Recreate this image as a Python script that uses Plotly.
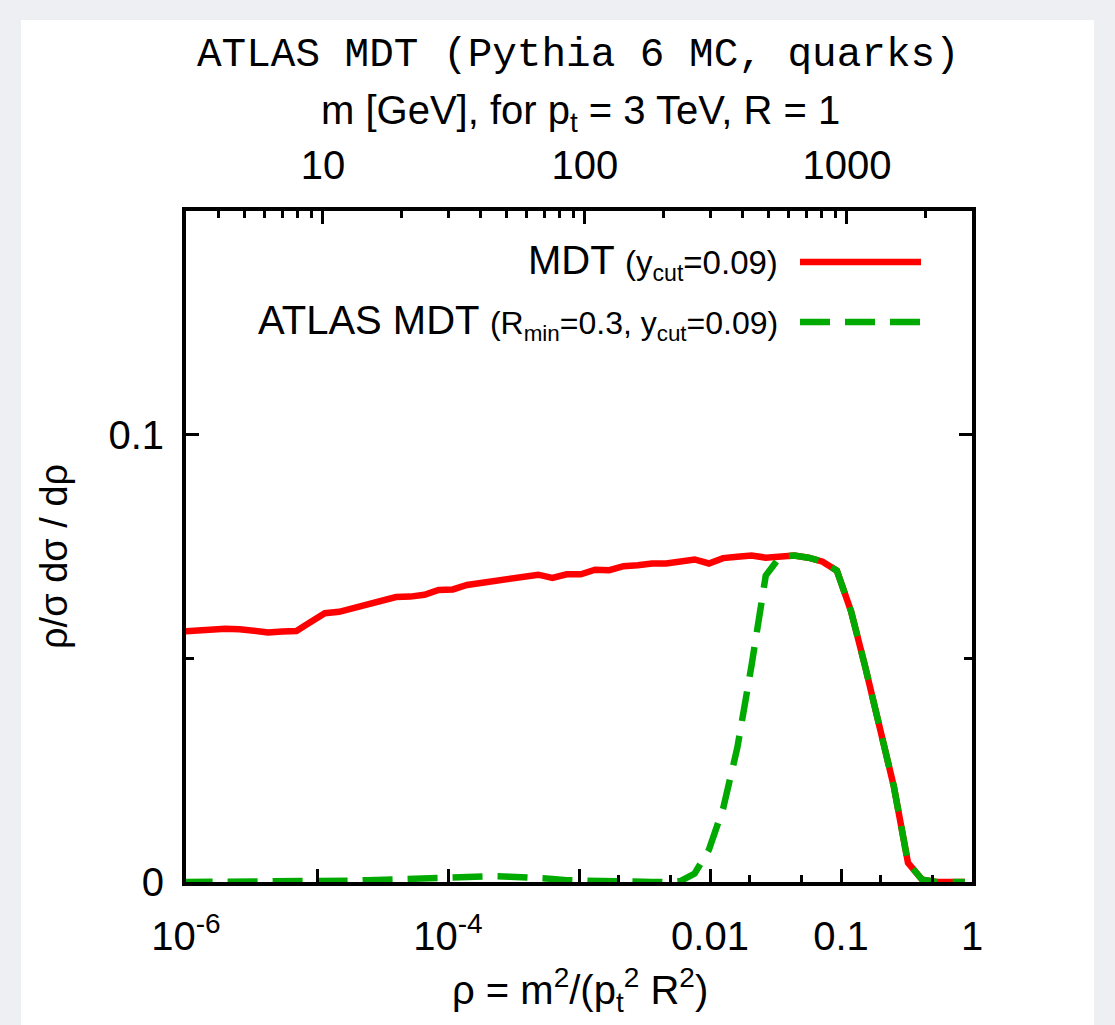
import math
import plotly.graph_objects as go

# ---------------- data ----------------
rho = [9.422e-7, 1.2098e-6, 1.5535e-6, 1.9947e-6, 2.5612e-6, 3.2887e-6, 4.2227e-6,
       5.4221e-6, 6.9621e-6, 8.9396e-6, 1.1479e-5, 1.4739e-5, 1.8925e-5, 2.4300e-5,
       3.1202e-5, 4.0065e-5, 5.1444e-5, 6.6056e-5, 8.4818e-5, 1.0891e-4, 1.3984e-4,
       1.7956e-4, 2.3055e-4, 2.9604e-4, 3.8012e-4, 4.8809e-4, 6.2672e-4, 8.0473e-4,
       1.0333e-3, 1.3268e-3, 1.7036e-3, 2.1875e-3, 2.8088e-3, 3.6066e-3, 4.6309e-3,
       5.9462e-3, 7.6351e-3, 9.8037e-3, 0.012588, 0.016163, 0.020754, 0.026649,
       0.034218, 0.043937, 0.056416, 0.072440, 0.093014, 0.11943, 0.15335, 0.19691,
       0.25284, 0.32465, 0.41686, 0.53526, 0.68729, 0.88250]

mdt = [0.0560, 0.0562, 0.0567, 0.0566, 0.0565, 0.0560, 0.0558, 0.0560, 0.0561, 0.0581,
       0.0601, 0.0604, 0.0613, 0.0622, 0.0631, 0.0637, 0.0638, 0.0642, 0.0653, 0.0654,
       0.0664, 0.0669, 0.0672, 0.0680, 0.0682, 0.0687, 0.0680, 0.0688, 0.0688, 0.0698,
       0.0697, 0.0706, 0.0708, 0.0712, 0.0712, 0.0717, 0.0721, 0.0712, 0.0724, 0.0727,
       0.0730, 0.0725, 0.0727, 0.0730, 0.0725, 0.0716, 0.0696, 0.0605, 0.0480, 0.0354,
       0.0214, 0.0043, 0.0005, 0.0, 0.0, 0.0]

atlas_mdt = [0.0, 0.0, 0.0, 0.0, 0.0, 0.0001, 0.0001, 0.0001, 0.0001, 0.0002,
             0.0002, 0.0003, 0.0003, 0.0004, 0.0005, 0.0006, 0.0007, 0.0009, 0.0010, 0.0012,
             0.0013, 0.0014, 0.0013, 0.0012, 0.0011, 0.0009, 0.0007, 0.0004, 0.0003, 0.0001,
             0.0, 0.0, 0.0, 0.0, 0.0, 0.0002, 0.0019, 0.0072, 0.0164, 0.0300,
             0.0484, 0.0685, 0.0727, 0.0730, 0.0725, 0.0716, 0.0696, 0.0605, 0.0480, 0.0354,
             0.0214, 0.0043, 0.0005, 0.0, 0.0, 0.0]

x_tickvals = [1e-6, 1e-4, 1e-2, 1e-1, 1]
x_ticktext = ["10<sup>-6</sup>", "10<sup>-4</sup>", "0.01", "0.1", "1"]
x_unlabeled_major = [1e-5, 1e-3]
x_minor = [2e-3, 5e-3, 2e-2, 5e-2, 0.2, 0.5]

m_tickvals = [10, 100, 1000]
m_ticktext = ["10", "100", "1000"]
m_minor = [4, 5, 6, 7, 8, 9, 20, 30, 40, 50, 60, 70, 80, 90,
           200, 300, 400, 500, 600, 700, 800, 900, 2000]
m_range = [3, 3000]

y_tickvals = [0, 0.1]
y_ticktext = ["0", "0.1"]
y_minor = [0.05]

# ---------------- layout geometry (pixels) ----------------
W, H = 1115, 1025
L, R, T, B = 186, 972, 211, 882

def px(x):
    return (x - L) / (R - L)

def py(y):
    return (B - y) / (B - T)

SANS = "Liberation Sans, Arial, Helvetica, sans-serif"
MONO = "Liberation Mono, Courier New, monospace"
RED = "#ff0000"
GREEN = "#00aa00"

fig = go.Figure()

fig.add_trace(go.Scatter(x=rho, y=mdt, mode="lines",
                         line=dict(color=RED, width=6.5),
                         showlegend=False, hoverinfo="skip"))
fig.add_trace(go.Scatter(x=rho, y=atlas_mdt, mode="lines",
                         line=dict(color=GREEN, width=6.5, dash="30px,15px"),
                         showlegend=False, hoverinfo="skip"))
# invisible helper traces so the extra axes are created
fig.add_trace(go.Scatter(x=m_range, y=[0, 0], xaxis="x2", mode="lines",
                         line=dict(width=0), opacity=0,
                         showlegend=False, hoverinfo="skip"))
fig.add_trace(go.Scatter(x=[1e-6, 1], y=[0, 0], xaxis="x3", mode="lines",
                         line=dict(width=0), opacity=0,
                         showlegend=False, hoverinfo="skip"))

tick_common = dict(ticks="inside", ticklen=13, tickwidth=3, tickcolor="black",
                   showgrid=False, zeroline=False)
minor_common = dict(tickmode="array", ticks="inside", ticklen=7, tickwidth=3,
                    tickcolor="black")
tfont = dict(family=SANS, size=40, color="black")

fig.update_layout(
    width=W, height=H,
    margin=dict(l=L, r=W - R, t=T, b=H - B, pad=0),
    paper_bgcolor="#edeff2",
    plot_bgcolor="white",
    showlegend=False,
    font=dict(family=SANS, color="black", size=40),
    xaxis=dict(
        type="log", range=[-6, 0],
        tickmode="array", tickvals=x_tickvals, ticktext=x_ticktext,
        minor=dict(tickvals=x_minor, **minor_common),
        showline=True, linewidth=4, linecolor="black", mirror=True,
        tickfont=tfont, ticklabelstandoff=16, **tick_common,
    ),
    xaxis3=dict(
        type="log", range=[-6, 0], overlaying="x", side="bottom", anchor="y",
        tickmode="array", tickvals=x_unlabeled_major, showticklabels=False,
        showline=False, **tick_common,
    ),
    xaxis2=dict(
        type="log", range=[math.log10(m_range[0]), math.log10(m_range[1])],
        overlaying="x", side="top", anchor="y",
        tickmode="array", tickvals=m_tickvals, ticktext=m_ticktext,
        minor=dict(tickvals=m_minor, **minor_common),
        showline=True, linewidth=4, linecolor="black",
        tickfont=tfont, ticklabelstandoff=12, **tick_common,
    ),
    yaxis=dict(
        range=[0, 0.15],
        tickmode="array", tickvals=y_tickvals, ticktext=y_ticktext,
        minor=dict(tickmode="array", tickvals=y_minor, ticks="inside",
                   ticklen=8, tickwidth=3, tickcolor="black"),
        showline=True, linewidth=4, linecolor="black", mirror="ticks",
        tickfont=tfont, ticklabelstandoff=10, **tick_common,
    ),
)

# white panel behind the chart
fig.add_shape(type="rect", xref="paper", yref="paper", layer="below",
              x0=px(21), x1=px(1094), y0=py(1025), y1=py(20),
              fillcolor="white", line=dict(width=0))

annotations = [
    dict(text="ATLAS MDT (Pythia 6 MC, quarks)", x=px(578), y=py(55),
         font=dict(family=MONO, size=41, color="black")),
    dict(text="m [GeV], for p<sub>t</sub> = 3 TeV, R = 1", x=px(580), y=py(113),
         font=dict(family=SANS, size=40, color="black")),
    dict(text="ρ = m<sup>2</sup>/(p<sub>t</sub><sup>2</sup> R<sup>2</sup>)",
         x=px(580), y=py(990),
         font=dict(family=SANS, size=40, color="black")),
    dict(text="ρ/σ dσ / dρ", x=px(54), y=py(557), textangle=-90,
         font=dict(family=SANS, size=38, color="black")),
    dict(text='MDT <span style="font-size:33px">(y<sub>cut</sub>=0.09)</span>',
         x=px(780), y=py(262), xanchor="right",
         font=dict(family=SANS, size=40, color="black")),
    dict(text='ATLAS MDT <span style="font-size:32px">(R<sub>min</sub>=0.3, y<sub>cut</sub>=0.09)</span>',
         x=px(780), y=py(322), xanchor="right",
         font=dict(family=SANS, size=40, color="black")),
]
for a in annotations:
    a.setdefault("xanchor", "center")
    fig.add_annotation(xref="paper", yref="paper", yanchor="middle",
                       showarrow=False, **a)

# legend sample lines
fig.add_shape(type="line", xref="paper", yref="paper",
              x0=px(800), x1=px(921), y0=py(262), y1=py(262),
              line=dict(color=RED, width=6.5))
fig.add_shape(type="line", xref="paper", yref="paper",
              x0=px(800), x1=px(921), y0=py(322), y1=py(322),
              line=dict(color=GREEN, width=6.5, dash="30px,15px"))

fig.write_html("out.html")
